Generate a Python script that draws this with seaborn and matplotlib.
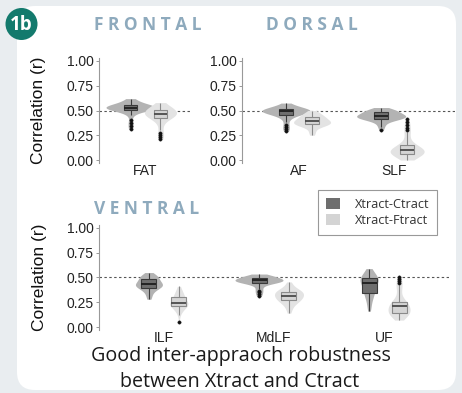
import matplotlib
matplotlib.use("Agg")
import numpy as np
import pandas as pd
import matplotlib.pyplot as plt
import seaborn as sns
from matplotlib.patches import FancyBboxPatch, Circle, Patch

# ---------------- data ----------------
methods = ["Xtract-Ctract", "Xtract-Ftract"]
frontal_tracts = ["FAT"]
dorsal_tracts = ["AF", "SLF"]
ventral_tracts = ["ILF", "MdLF", "UF"]
ytick_values = [0.0, 0.25, 0.5, 0.75, 1.0]
ytick_labels = ["0.00", "0.25", "0.50", "0.75", "1.00"]
panel_titles = ["F R O N T A L", "D O R S A L", "V E N T R A L"]

fat_ctract = [0.31, 0.34, 0.37, 0.40, 0.45, 0.47, 0.485, 0.495, 0.50,
              0.505, 0.505, 0.51, 0.51, 0.515, 0.515, 0.52, 0.52, 0.525, 0.525, 0.53,
              0.53, 0.53, 0.535, 0.535, 0.54, 0.54, 0.545, 0.545, 0.55, 0.55,
              0.555, 0.555, 0.56, 0.565, 0.57, 0.58, 0.59, 0.60, 0.61, 0.62]
fat_ftract = [0.21, 0.23, 0.25, 0.27, 0.30, 0.34, 0.37, 0.39, 0.41,
              0.42, 0.425, 0.43, 0.435, 0.44, 0.445, 0.45, 0.455, 0.46, 0.46, 0.465,
              0.465, 0.47, 0.475, 0.48, 0.485, 0.49, 0.495, 0.50, 0.50, 0.505,
              0.51, 0.515, 0.52, 0.525, 0.53, 0.54, 0.55, 0.56, 0.57, 0.58]
af_ctract = [0.29, 0.31, 0.33, 0.35, 0.38, 0.41, 0.43, 0.44, 0.45,
             0.455, 0.46, 0.465, 0.47, 0.475, 0.48, 0.48, 0.485, 0.485, 0.49, 0.49,
             0.49, 0.495, 0.495, 0.50, 0.50, 0.50, 0.505, 0.505, 0.51, 0.515,
             0.515, 0.52, 0.52, 0.525, 0.53, 0.535, 0.54, 0.55, 0.56, 0.575]
af_ftract = [0.25, 0.27, 0.29, 0.31, 0.33, 0.34, 0.345, 0.35, 0.35,
             0.355, 0.36, 0.36, 0.365, 0.37, 0.37, 0.375, 0.38, 0.38, 0.385, 0.39,
             0.39, 0.395, 0.40, 0.40, 0.405, 0.41, 0.415, 0.42, 0.425, 0.43,
             0.435, 0.44, 0.445, 0.45, 0.455, 0.46, 0.47, 0.48, 0.49, 0.50]
slf_ctract = [0.30, 0.33, 0.35, 0.37, 0.385, 0.395, 0.40, 0.405, 0.41,
              0.415, 0.42, 0.42, 0.425, 0.425, 0.43, 0.43, 0.435, 0.44, 0.44, 0.445,
              0.445, 0.45, 0.45, 0.455, 0.46, 0.46, 0.465, 0.47, 0.475, 0.48,
              0.48, 0.485, 0.49, 0.495, 0.50, 0.505, 0.51, 0.515, 0.52, 0.53]
slf_ftract = [0.0, 0.01, 0.02, 0.03, 0.04, 0.045, 0.05, 0.055, 0.06,
              0.06, 0.065, 0.07, 0.075, 0.08, 0.08, 0.085, 0.09, 0.09, 0.095, 0.10,
              0.10, 0.105, 0.11, 0.115, 0.12, 0.125, 0.13, 0.135, 0.14, 0.15,
              0.16, 0.18, 0.21, 0.25, 0.28, 0.30, 0.32, 0.35, 0.38, 0.41]
ilf_ctract = [0.28, 0.30, 0.32, 0.34, 0.355, 0.365, 0.375, 0.385, 0.39,
              0.395, 0.40, 0.405, 0.41, 0.41, 0.415, 0.42, 0.42, 0.425, 0.43, 0.435,
              0.435, 0.44, 0.445, 0.45, 0.455, 0.46, 0.465, 0.47, 0.475, 0.485,
              0.49, 0.495, 0.50, 0.505, 0.51, 0.515, 0.52, 0.53, 0.54, 0.55]
ilf_ftract = [0.05, 0.12, 0.14, 0.16, 0.17, 0.18, 0.19, 0.195, 0.20,
              0.205, 0.21, 0.215, 0.22, 0.22, 0.225, 0.23, 0.235, 0.24, 0.24, 0.245,
              0.245, 0.25, 0.255, 0.26, 0.265, 0.27, 0.28, 0.29, 0.30, 0.305,
              0.31, 0.315, 0.32, 0.33, 0.34, 0.35, 0.36, 0.375, 0.39, 0.41]
mdlf_ctract = [0.31, 0.33, 0.35, 0.365, 0.38, 0.40, 0.42, 0.435, 0.44,
               0.445, 0.45, 0.45, 0.455, 0.455, 0.46, 0.46, 0.46, 0.465, 0.465, 0.47,
               0.47, 0.47, 0.475, 0.475, 0.48, 0.48, 0.485, 0.485, 0.49, 0.495,
               0.50, 0.50, 0.505, 0.505, 0.51, 0.51, 0.515, 0.52, 0.525, 0.535]
mdlf_ftract = [0.14, 0.17, 0.19, 0.21, 0.225, 0.235, 0.245, 0.25, 0.258,
               0.263, 0.27, 0.275, 0.28, 0.285, 0.29, 0.295, 0.30, 0.305, 0.31, 0.315,
               0.318, 0.32, 0.325, 0.33, 0.335, 0.34, 0.345, 0.35, 0.355, 0.357,
               0.36, 0.365, 0.37, 0.375, 0.38, 0.39, 0.40, 0.415, 0.435, 0.455]
uf_ctract = [0.16, 0.19, 0.22, 0.25, 0.27, 0.29, 0.305, 0.32, 0.33,
             0.34, 0.35, 0.36, 0.37, 0.38, 0.39, 0.40, 0.41, 0.42, 0.43, 0.44,
             0.45, 0.455, 0.46, 0.465, 0.47, 0.475, 0.48, 0.485, 0.488, 0.49,
             0.495, 0.50, 0.51, 0.52, 0.53, 0.54, 0.55, 0.56, 0.575, 0.59]
uf_ftract = [0.07, 0.09, 0.10, 0.11, 0.12, 0.125, 0.13, 0.135, 0.14,
             0.14, 0.145, 0.15, 0.155, 0.16, 0.165, 0.17, 0.175, 0.18, 0.19, 0.205,
             0.215, 0.22, 0.225, 0.23, 0.235, 0.24, 0.24, 0.245, 0.245, 0.25,
             0.27, 0.30, 0.34, 0.38, 0.40, 0.42, 0.44, 0.46, 0.48, 0.51]

series = {
    ("FAT", methods[0]): fat_ctract, ("FAT", methods[1]): fat_ftract,
    ("AF", methods[0]): af_ctract, ("AF", methods[1]): af_ftract,
    ("SLF", methods[0]): slf_ctract, ("SLF", methods[1]): slf_ftract,
    ("ILF", methods[0]): ilf_ctract, ("ILF", methods[1]): ilf_ftract,
    ("MdLF", methods[0]): mdlf_ctract, ("MdLF", methods[1]): mdlf_ftract,
    ("UF", methods[0]): uf_ctract, ("UF", methods[1]): uf_ftract,
}
rows = [(t, m, v) for (t, m), vals in series.items() for v in vals]
df = pd.DataFrame(rows, columns=["tract", "method", "r"])

# ---------------- styles ----------------
W, H = 462, 393
VIOLIN_COLORS = {methods[0]: "#b3b3b3", methods[1]: "#e3e3e3"}
BOX_COLORS = {methods[0]: "#6e6e6e", methods[1]: "#d4d4d4"}
BOX_EDGE = {methods[0]: "#3a3a3a", methods[1]: "#8a8a8a"}
MEDIAN_COLOR = {methods[0]: "#1e1e1e", methods[1]: "#4a4a4a"}
# maximal violin widths in pixels (styling)
VIOLIN_PX = {
    ("FAT", methods[0]): 49, ("FAT", methods[1]): 32,
    ("AF", methods[0]): 48, ("AF", methods[1]): 37,
    ("SLF", methods[0]): 49, ("SLF", methods[1]): 34,
    ("ILF", methods[0]): 27, ("ILF", methods[1]): 18,
    ("MdLF", methods[0]): 48, ("MdLF", methods[1]): 29,
    ("UF", methods[0]): 18, ("UF", methods[1]): 22,
}
TICK_FONT = "Liberation Sans"
TITLE_COLOR = "#8eaabd"

fig = plt.figure(figsize=(W / 100, H / 100), dpi=100)
fig.patch.set_facecolor("#e9edf0")

# background axes in pixel coordinates
bg = fig.add_axes([0, 0, 1, 1], zorder=0)
bg.set_xlim(0, W)
bg.set_ylim(H, 0)
bg.axis("off")
bg.add_patch(FancyBboxPatch((17, 6), 439, 384, boxstyle="round,pad=0,rounding_size=18",
                            facecolor="white", edgecolor="none"))
bg.add_patch(Circle((21.5, 24), 16, facecolor="#137a6d", edgecolor="none"))
bg.text(21.5, 24.5, "1b", color="white", fontsize=13.5, fontweight="bold",
        family="Open Sans", ha="center", va="center")
title_pos = [(148, 25), (312, 25), (146.5, 209)]
for t, (x, y) in zip(panel_titles, title_pos):
    bg.text(x, y, t, color=TITLE_COLOR, fontsize=12.5, fontweight="bold",
            family="Open Sans", ha="center", va="center")
bg.text(241, 361, "Good inter-appraoch robustness", fontsize=14.2, family="Open Sans",
        color="#1a1a1a", ha="center", va="baseline")
bg.text(240, 387, "between Xtract and Ctract", fontsize=14.2, family="Open Sans",
        color="#1a1a1a", ha="center", va="baseline")


def rect(l, t, r, b):
    return [l / W, 1 - b / H, (r - l) / W, (b - t) / H]


def draw_panel(ax, tracts, xlim, dodge_w, box_gap, ylabel):
    ax.set_facecolor("none")
    px_per_unit = ax.get_position().width * W / (xlim[1] - xlim[0])
    sub = df[df.tract.isin(tracts)]
    for m in methods:
        for t in tracts:
            d = sub[(sub.tract == t) & (sub.method == m)]
            vw = VIOLIN_PX[(t, m)] / px_per_unit
            g = 1 - vw / (dodge_w / 2)
            sns.violinplot(data=d, x="tract", y="r", hue="method", order=tracts,
                           hue_order=methods, dodge=True, width=dodge_w, gap=g,
                           density_norm="width", cut=0, inner=None, linewidth=0,
                           palette=VIOLIN_COLORS, saturation=1, bw_adjust=0.9,
                           legend=False, ax=ax)
    for m in methods:
        d = sub[sub.method == m]
        sns.boxplot(data=d, x="tract", y="r", hue="method", order=tracts,
                    hue_order=methods, dodge=True, width=dodge_w, gap=box_gap,
                    palette=BOX_COLORS, saturation=1, linecolor=BOX_EDGE[m],
                    linewidth=0.8, fliersize=2.4, showcaps=False,
                    flierprops=dict(marker="o", markerfacecolor="#111111",
                                    markeredgecolor="#111111", markersize=2.4,
                                    markeredgewidth=0.3),
                    medianprops=dict(color=MEDIAN_COLOR[m], linewidth=1.3),
                    legend=False, ax=ax)
    ax.axhline(0.5, color="#555555", lw=0.8, ls=(0, (2.2, 2.2)), zorder=0.5)
    ax.set_xlim(*xlim)
    ax.set_ylim(-0.03, 1.03)
    ax.set_yticks(ytick_values)
    ax.set_yticklabels(ytick_labels, family=TICK_FONT, fontsize=10, color="#222222")
    ax.set_xticks(range(len(tracts)))
    ax.set_xticklabels(tracts, family=TICK_FONT, fontsize=10, color="#222222")
    ax.tick_params(axis="x", length=0, pad=1.0)
    ax.tick_params(axis="y", length=2.5, width=0.6, color="#888888", pad=1.5)
    for s in ["top", "right", "bottom"]:
        ax.spines[s].set_visible(False)
    ax.spines["left"].set_color("#999999")
    ax.spines["left"].set_linewidth(0.8)
    ax.set_xlabel("")
    if ylabel:
        ax.set_ylabel(ylabel, family=TICK_FONT, fontsize=12.5, color="#111111")
    else:
        ax.set_ylabel("")


ax1 = fig.add_axes(rect(99, 58, 192, 163), zorder=2)
draw_panel(ax1, frontal_tracts, (-0.5, 0.5), 0.645, 0.535, "Correlation (r)")
ax1.yaxis.set_label_coords((46 - 99) / 93, 0.5)

ax2 = fig.add_axes(rect(242, 58, 455, 163), zorder=2)
draw_panel(ax2, dorsal_tracts, (-0.6, 1.64), 0.547, 0.46, None)

ax3 = fig.add_axes(rect(99, 225, 449, 330), zorder=2)
draw_panel(ax3, ventral_tracts, (-0.59, 2.59), 0.545, 0.5, "Correlation (r)")
ax3.yaxis.set_label_coords((47 - 99) / 350, 0.5)

handles = [Patch(facecolor=BOX_COLORS[m], edgecolor="none") for m in methods]
leg = fig.legend(handles, methods, loc="upper left",
                 bbox_to_anchor=(318 / W, 1 - 190 / H), borderaxespad=0,
                 frameon=True, fancybox=False,
                 edgecolor="#999999", framealpha=1, borderpad=0.6, handlelength=1.1,
                 handleheight=0.9, handletextpad=1.2, labelspacing=0.25,
                 prop=dict(family="Open Sans", size=9.2))
leg.get_frame().set_linewidth(0.8)
for txt in leg.get_texts():
    txt.set_color("#333333")

fig.savefig("out.png", dpi=100)
